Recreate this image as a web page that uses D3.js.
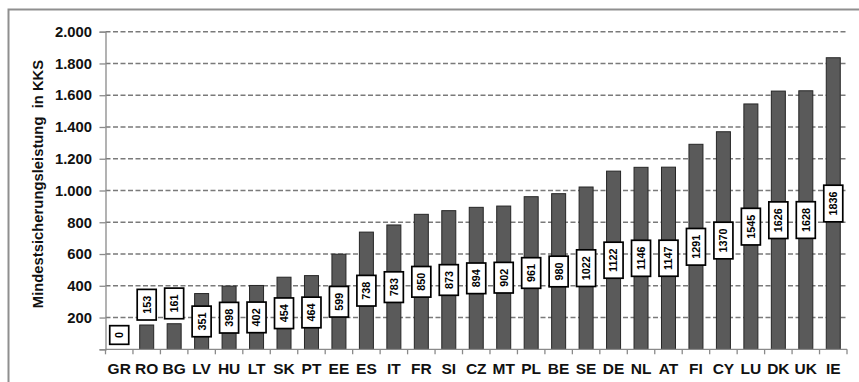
<!DOCTYPE html>
<html>
<head>
<meta charset="utf-8">
<script src="https://cdn.jsdelivr.net/npm/d3@7/dist/d3.min.js"></script>
<style>
  html, body { margin: 0; padding: 0; background: #fff; }
  svg { display: block; font-family: "Liberation Sans", Arial, sans-serif; }
</style>
</head>
<body>
<svg id="chart" width="859" height="382"></svg>
<script>
// Country codes along the x axis
const countries = ["GR","RO","BG","LV","HU","LT","SK","PT","EE","ES","IT","FR","SI","CZ","MT","PL","BE","SE","DE","NL","AT","FI","CY","LU","DK","UK","IE"];
// Minimum income benefit in PPS per country
const values = [0,153,161,351,398,402,454,464,599,738,783,850,873,894,902,961,980,1022,1122,1146,1147,1291,1370,1545,1626,1628,1836];
// Value axis ticks
const yTicks = [200,400,600,800,1000,1200,1400,1600,1800,2000];
const yTitle = "Mindestsicherungsleistung  in KKS";

const FONT = "Liberation Sans, Arial, sans-serif";
const svg = d3.select("#chart");
const W = 859, H = 382;
const plot = { left: 105.5, right: 847, top: 31.7, bottom: 349.3 };

// outer frame (left and top edges visible)
svg.append("path")
  .attr("d", `M8.5,${H} L8.5,9.5 L${W},9.5`)
  .attr("fill", "none").attr("stroke", "#8f8f8f").attr("stroke-width", 2);

const x = d3.scaleBand().domain(countries).range([plot.left, plot.right]).paddingInner(0.49).paddingOuter(0.245);
const xb = d3.scaleBand().domain(countries).range([plot.left, plot.right]);
const y = d3.scaleLinear().domain([0, 2000]).range([plot.bottom, plot.top]);

const fmt = d => d3.format(",")(d).replace(/,/g, ".");

// dashed gridlines
svg.append("g").selectAll("line").data(yTicks).join("line")
  .attr("x1", plot.left).attr("x2", plot.right)
  .attr("y1", d => y(d)).attr("y2", d => y(d))
  .attr("stroke", "#7a7a7a").attr("stroke-width", 1.5)
  .attr("stroke-dasharray", "5,2.5");

// y axis
const yAxis = svg.append("g").attr("transform", `translate(${plot.left},0)`)
  .call(d3.axisLeft(y).tickValues([0].concat(yTicks)).tickSize(6).tickPadding(7.5).tickFormat(d => d === 0 ? "" : fmt(d)));
yAxis.select(".domain").attr("stroke", "#8a8a8a").attr("stroke-width", 1.3);
yAxis.selectAll(".tick line").attr("stroke", "#8a8a8a").attr("stroke-width", 1.3);
yAxis.selectAll(".tick text")
  .attr("font-size", 14.8).attr("font-weight", "bold").attr("fill", "#111")
  .attr("font-family", FONT);

// bars
svg.append("g").selectAll("rect").data(values).join("rect")
  .attr("x", (d, i) => x(countries[i]))
  .attr("width", x.bandwidth())
  .attr("y", d => y(d))
  .attr("height", d => y(0) - y(d))
  .attr("fill", "#5a5a5a").attr("stroke", "#262626").attr("stroke-width", 1);

// x axis with boundary ticks
const xg = svg.append("g");
xg.append("line").attr("x1", plot.left).attr("x2", plot.right)
  .attr("y1", plot.bottom).attr("y2", plot.bottom)
  .attr("stroke", "#8a8a8a").attr("stroke-width", 1.3);
const bounds = countries.map(c => xb(c)).concat([plot.right]);
xg.selectAll("line.b").data(bounds).join("line").attr("class", "b")
  .attr("x1", d => d).attr("x2", d => d)
  .attr("y1", plot.bottom).attr("y2", plot.bottom + 5)
  .attr("stroke", "#8a8a8a").attr("stroke-width", 1.3);
xg.selectAll("text").data(countries).join("text")
  .attr("x", d => xb(d) + xb.bandwidth() / 2)
  .attr("y", 374.3)
  .attr("text-anchor", "middle")
  .attr("font-family", FONT)
  .attr("font-size", 15.5).attr("font-weight", "bold").attr("fill", "#111")
  .text(d => d);

// value labels in rotated boxes
const labelFont = 10.8, padLong = 6.3, boxW = 19, gap = 5;
const lg = svg.append("g");
values.forEach((v, i) => {
  const cx = xb(countries[i]) + xb.bandwidth() / 2;
  const txt = String(v);
  const t = lg.append("text").attr("font-family", FONT).attr("font-size", labelFont).attr("font-weight", "bold").text(txt);
  const len = t.node().getComputedTextLength();
  const boxH = len + 2 * padLong;
  const barH = y(0) - y(v);
  let cy;
  if (barH >= boxH + 4) cy = (y(v) + y(0)) / 2;
  else cy = y(v) - gap - boxH / 2;
  t.remove();
  const g = lg.append("g").attr("transform", `translate(${cx},${cy})`);
  g.append("rect").attr("x", -boxW / 2).attr("y", -boxH / 2)
    .attr("width", boxW).attr("height", boxH)
    .attr("fill", "#fff").attr("stroke", "#000").attr("stroke-width", 1.7);
  g.append("text").attr("transform", "rotate(-90)")
    .attr("text-anchor", "middle").attr("dy", "0.36em")
    .attr("font-family", FONT)
    .attr("font-size", labelFont).attr("font-weight", "bold").attr("fill", "#000")
    .text(txt);
});

// y axis title
svg.append("text")
  .attr("transform", `translate(43,${184}) rotate(-90)`)
  .attr("text-anchor", "middle")
  .attr("font-family", FONT)
  .attr("font-size", 14.8).attr("font-weight", "bold").attr("fill", "#111")
  .style("white-space", "pre")
  .text(yTitle);
</script>
</body>
</html>
